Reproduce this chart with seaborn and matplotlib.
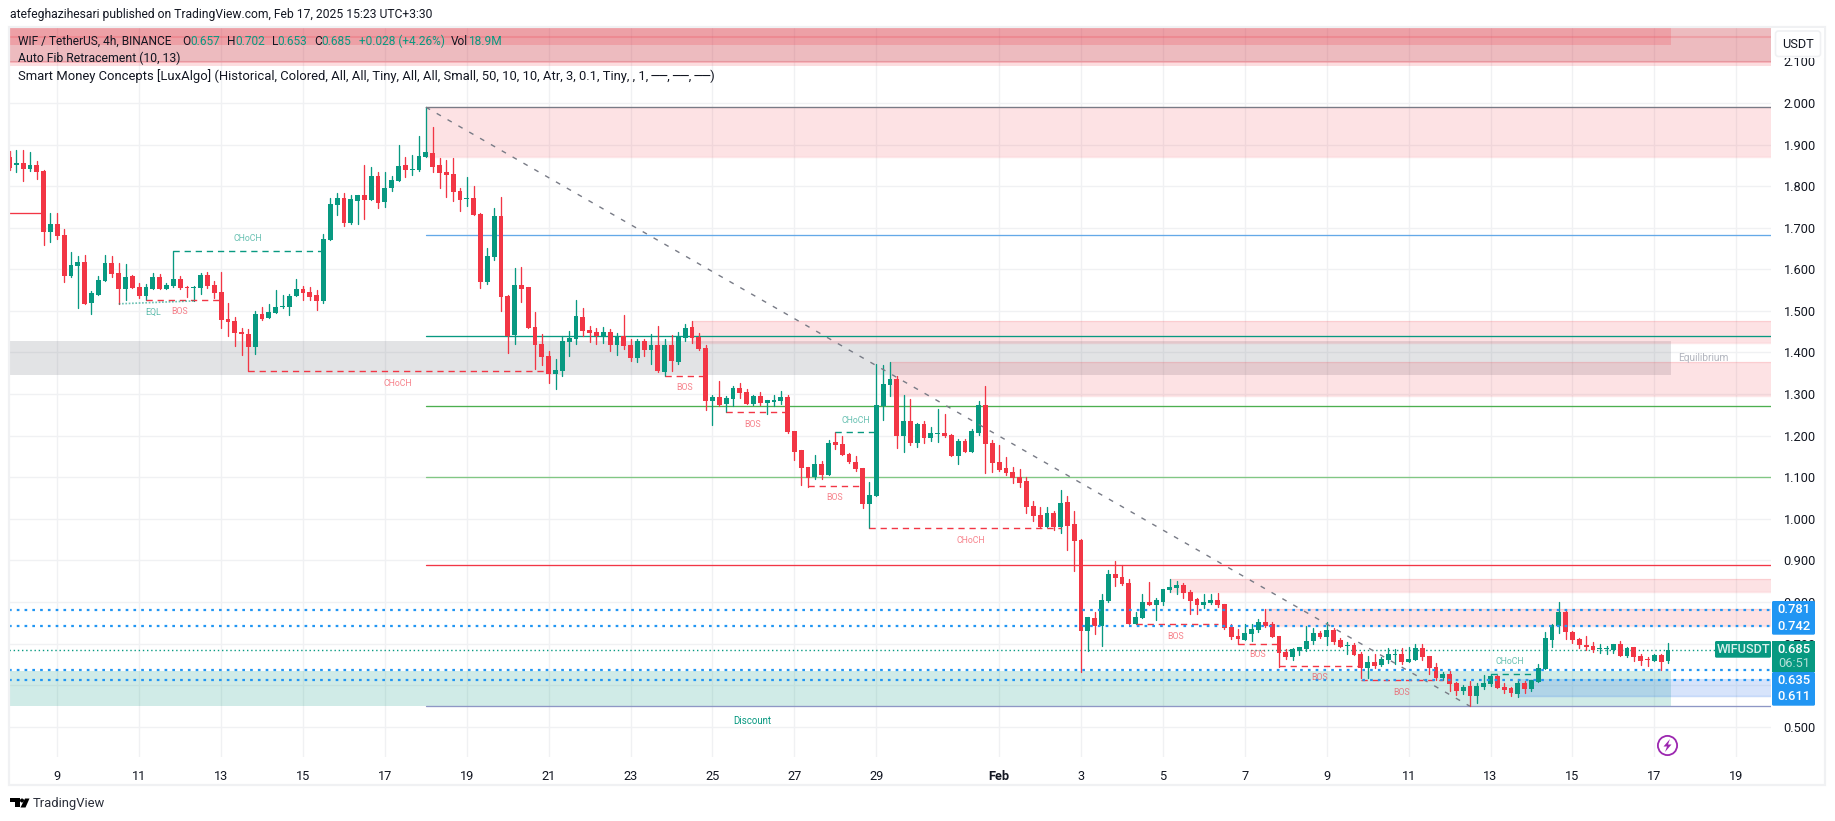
import matplotlib
matplotlib.use("Agg")
import matplotlib.pyplot as plt
from matplotlib.patches import Rectangle, Circle, FancyBboxPatch, Polygon
import numpy as np
import pandas as pd
import seaborn as sns

GREEN = "#089981"
RED = "#f23645"
BLUE = "#2196f3"
GRID = "#f0f1f3"
DARK = "#131722"

# 4h candles, first one is 7 bars before Jan 9
opens = [
    1.871, 1.852, 1.856, 1.841, 1.851, 1.837, 1.690, 1.709, 1.682, 1.584,
    1.608, 1.618, 1.520, 1.539, 1.572, 1.615, 1.591, 1.553, 1.584, 1.557,
    1.536, 1.553, 1.581, 1.553, 1.560, 1.577, 1.558, 1.556, 1.555, 1.586,
    1.562, 1.545, 1.480, 1.476, 1.449, 1.444, 1.413, 1.493, 1.483, 1.495,
    1.510, 1.509, 1.536, 1.553, 1.545, 1.538, 1.524, 1.670, 1.755, 1.771,
    1.711, 1.764, 1.779, 1.767, 1.824, 1.762, 1.796, 1.812, 1.851, 1.839,
    1.839, 1.870, 1.880, 1.851, 1.834, 1.829, 1.788, 1.769, 1.771, 1.733,
    1.569, 1.629, 1.728, 1.536, 1.442, 1.562, 1.557, 1.461, 1.420, 1.391,
    1.348, 1.355, 1.425, 1.432, 1.485, 1.454, 1.449, 1.438, 1.449, 1.418,
    1.440, 1.418, 1.387, 1.428, 1.406, 1.418, 1.353, 1.418, 1.377, 1.435,
    1.461, 1.437, 1.411, 1.283, 1.293, 1.276, 1.288, 1.315, 1.305, 1.276,
    1.295, 1.278, 1.281, 1.283, 1.293, 1.211, 1.165, 1.124, 1.100, 1.132,
    1.105, 1.185, 1.180, 1.156, 1.137, 1.122, 1.036, 1.055, 1.271, 1.321,
    1.336, 1.199, 1.235, 1.182, 1.228, 1.194, 1.204, 1.206, 1.201, 1.151,
    1.187, 1.161, 1.206, 1.274, 1.182, 1.137, 1.122, 1.112, 1.100, 1.091,
    1.031, 1.009, 0.980, 1.014, 0.980, 1.040, 0.987, 0.949, 0.730, 0.761,
    0.742, 0.802, 0.867, 0.860, 0.845, 0.747, 0.761, 0.800, 0.793, 0.800,
    0.829, 0.833, 0.841, 0.824, 0.807, 0.793, 0.797, 0.805, 0.795, 0.740,
    0.718, 0.708, 0.723, 0.733, 0.752, 0.747, 0.718, 0.680, 0.668, 0.682,
    0.687, 0.706, 0.725, 0.716, 0.733, 0.708, 0.695, 0.696, 0.675, 0.641,
    0.655, 0.648, 0.660, 0.673, 0.675, 0.655, 0.660, 0.689, 0.670, 0.644,
    0.617, 0.627, 0.605, 0.586, 0.598, 0.574, 0.595, 0.603, 0.622, 0.595,
    0.593, 0.578, 0.605, 0.590, 0.607, 0.639, 0.708, 0.742, 0.776, 0.728,
    0.711, 0.696, 0.694, 0.686, 0.686, 0.684, 0.699, 0.670, 0.692, 0.670,
    0.662, 0.658, 0.672, 0.657,
]
closes = [
    1.843, 1.856, 1.841, 1.851, 1.835, 1.690, 1.709, 1.680, 1.584, 1.610,
    1.618, 1.517, 1.542, 1.574, 1.615, 1.589, 1.553, 1.581, 1.555, 1.536,
    1.557, 1.581, 1.553, 1.562, 1.577, 1.555, 1.556, 1.558, 1.586, 1.561,
    1.543, 1.478, 1.473, 1.447, 1.444, 1.413, 1.493, 1.480, 1.497, 1.509,
    1.512, 1.536, 1.553, 1.543, 1.533, 1.524, 1.673, 1.757, 1.771, 1.711,
    1.769, 1.779, 1.767, 1.824, 1.759, 1.796, 1.815, 1.848, 1.839, 1.841,
    1.872, 1.882, 1.846, 1.832, 1.827, 1.786, 1.767, 1.771, 1.731, 1.569,
    1.632, 1.728, 1.533, 1.440, 1.562, 1.553, 1.459, 1.418, 1.389, 1.348,
    1.358, 1.428, 1.435, 1.488, 1.452, 1.447, 1.440, 1.449, 1.418, 1.439,
    1.416, 1.387, 1.428, 1.406, 1.418, 1.355, 1.418, 1.379, 1.440, 1.459,
    1.435, 1.408, 1.283, 1.293, 1.274, 1.290, 1.315, 1.303, 1.276, 1.295,
    1.278, 1.286, 1.286, 1.293, 1.209, 1.161, 1.122, 1.098, 1.132, 1.105,
    1.182, 1.177, 1.153, 1.137, 1.120, 1.036, 1.057, 1.274, 1.324, 1.336,
    1.199, 1.235, 1.182, 1.228, 1.194, 1.206, 1.206, 1.199, 1.151, 1.187,
    1.161, 1.211, 1.274, 1.180, 1.134, 1.117, 1.110, 1.098, 1.086, 1.028,
    1.007, 0.980, 1.014, 0.980, 1.038, 0.983, 0.946, 0.730, 0.764, 0.742,
    0.805, 0.867, 0.858, 0.843, 0.747, 0.764, 0.800, 0.793, 0.805, 0.831,
    0.836, 0.841, 0.821, 0.802, 0.793, 0.800, 0.805, 0.793, 0.737, 0.716,
    0.711, 0.725, 0.735, 0.752, 0.742, 0.716, 0.677, 0.668, 0.687, 0.692,
    0.706, 0.725, 0.716, 0.733, 0.704, 0.692, 0.696, 0.672, 0.641, 0.655,
    0.646, 0.663, 0.675, 0.675, 0.655, 0.663, 0.689, 0.668, 0.641, 0.617,
    0.627, 0.603, 0.586, 0.595, 0.574, 0.598, 0.605, 0.622, 0.593, 0.588,
    0.581, 0.605, 0.590, 0.612, 0.641, 0.713, 0.744, 0.776, 0.728, 0.708,
    0.696, 0.692, 0.684, 0.688, 0.688, 0.699, 0.670, 0.689, 0.668, 0.658,
    0.660, 0.672, 0.655, 0.685,
]
highs = [
    1.885, 1.887, 1.887, 1.882, 1.860, 1.839, 1.735, 1.735, 1.697, 1.642,
    1.632, 1.634, 1.548, 1.584, 1.634, 1.631, 1.614, 1.613, 1.586, 1.566,
    1.565, 1.591, 1.589, 1.566, 1.643, 1.584, 1.561, 1.560, 1.592, 1.594,
    1.572, 1.593, 1.520, 1.486, 1.460, 1.456, 1.500, 1.509, 1.517, 1.550,
    1.538, 1.541, 1.576, 1.560, 1.557, 1.550, 1.685, 1.771, 1.784, 1.784,
    1.779, 1.779, 1.851, 1.846, 1.834, 1.834, 1.824, 1.899, 1.871, 1.875,
    1.920, 1.990, 1.942, 1.868, 1.863, 1.868, 1.796, 1.822, 1.800, 1.735,
    1.651, 1.747, 1.774, 1.538, 1.603, 1.606, 1.557, 1.497, 1.444, 1.404,
    1.384, 1.440, 1.452, 1.526, 1.507, 1.464, 1.459, 1.461, 1.456, 1.447,
    1.490, 1.432, 1.432, 1.432, 1.444, 1.464, 1.432, 1.442, 1.449, 1.468,
    1.476, 1.447, 1.418, 1.298, 1.331, 1.295, 1.319, 1.327, 1.312, 1.298,
    1.305, 1.286, 1.298, 1.307, 1.298, 1.211, 1.165, 1.124, 1.153, 1.139,
    1.189, 1.209, 1.199, 1.158, 1.151, 1.122, 1.088, 1.372, 1.370, 1.377,
    1.343, 1.298, 1.288, 1.230, 1.235, 1.221, 1.264, 1.252, 1.204, 1.192,
    1.192, 1.216, 1.283, 1.319, 1.189, 1.177, 1.149, 1.124, 1.120, 1.100,
    1.043, 1.028, 1.028, 1.019, 1.069, 1.055, 1.019, 0.951, 0.764, 0.776,
    0.819, 0.877, 0.898, 0.890, 0.855, 0.776, 0.819, 0.848, 0.810, 0.831,
    0.855, 0.850, 0.845, 0.829, 0.810, 0.819, 0.819, 0.821, 0.795, 0.747,
    0.735, 0.747, 0.747, 0.759, 0.783, 0.752, 0.718, 0.687, 0.689, 0.692,
    0.742, 0.737, 0.730, 0.752, 0.737, 0.713, 0.704, 0.701, 0.680, 0.670,
    0.675, 0.668, 0.689, 0.687, 0.689, 0.692, 0.699, 0.699, 0.670, 0.653,
    0.631, 0.634, 0.607, 0.600, 0.610, 0.605, 0.624, 0.627, 0.624, 0.605,
    0.595, 0.615, 0.610, 0.612, 0.651, 0.728, 0.747, 0.800, 0.781, 0.730,
    0.713, 0.718, 0.704, 0.699, 0.694, 0.699, 0.706, 0.692, 0.692, 0.675,
    0.668, 0.675, 0.675, 0.702,
]
lows = [
    1.840, 1.835, 1.812, 1.837, 1.817, 1.658, 1.666, 1.673, 1.570, 1.581,
    1.508, 1.517, 1.493, 1.539, 1.572, 1.582, 1.517, 1.526, 1.554, 1.530,
    1.526, 1.552, 1.552, 1.552, 1.558, 1.552, 1.534, 1.524, 1.541, 1.556,
    1.530, 1.460, 1.440, 1.416, 1.394, 1.355, 1.396, 1.478, 1.483, 1.494,
    1.508, 1.490, 1.536, 1.526, 1.526, 1.502, 1.519, 1.670, 1.730, 1.704,
    1.709, 1.709, 1.721, 1.767, 1.747, 1.750, 1.788, 1.812, 1.822, 1.827,
    1.837, 1.870, 1.834, 1.796, 1.774, 1.764, 1.740, 1.752, 1.731, 1.555,
    1.565, 1.622, 1.500, 1.399, 1.420, 1.521, 1.459, 1.360, 1.370, 1.327,
    1.312, 1.343, 1.392, 1.420, 1.440, 1.426, 1.420, 1.423, 1.404, 1.394,
    1.408, 1.379, 1.377, 1.392, 1.372, 1.353, 1.343, 1.355, 1.372, 1.428,
    1.423, 1.406, 1.262, 1.226, 1.271, 1.256, 1.271, 1.290, 1.276, 1.274,
    1.274, 1.252, 1.271, 1.276, 1.206, 1.141, 1.081, 1.077, 1.096, 1.096,
    1.105, 1.168, 1.153, 1.134, 1.115, 1.026, 0.977, 1.055, 1.238, 1.295,
    1.170, 1.161, 1.177, 1.173, 1.182, 1.187, 1.185, 1.197, 1.151, 1.132,
    1.161, 1.161, 1.201, 1.110, 1.112, 1.115, 1.105, 1.086, 1.077, 1.014,
    0.995, 0.978, 0.980, 0.973, 0.966, 0.925, 0.874, 0.632, 0.682, 0.723,
    0.694, 0.800, 0.838, 0.841, 0.747, 0.747, 0.761, 0.793, 0.756, 0.793,
    0.824, 0.819, 0.810, 0.771, 0.771, 0.785, 0.795, 0.788, 0.735, 0.711,
    0.699, 0.708, 0.706, 0.728, 0.740, 0.716, 0.644, 0.663, 0.660, 0.672,
    0.682, 0.699, 0.713, 0.696, 0.699, 0.692, 0.675, 0.672, 0.617, 0.617,
    0.641, 0.646, 0.653, 0.651, 0.651, 0.655, 0.660, 0.660, 0.627, 0.612,
    0.612, 0.586, 0.576, 0.578, 0.550, 0.557, 0.590, 0.598, 0.593, 0.581,
    0.574, 0.571, 0.581, 0.586, 0.607, 0.639, 0.692, 0.725, 0.711, 0.701,
    0.689, 0.684, 0.680, 0.677, 0.675, 0.677, 0.670, 0.668, 0.658, 0.648,
    0.646, 0.658, 0.636, 0.653,
]

price_ticks = [0.5, 0.6, 0.7, 0.8, 0.9, 1.0, 1.1, 1.2, 1.3, 1.4, 1.5, 1.6, 1.7, 1.8, 1.9, 2.0, 2.1]
day_ticks = [0, 2, 4, 6, 8, 10, 12, 14, 16, 18, 20, 23, 25, 27, 29, 31, 33, 35, 37, 39, 41]
day_labels = ["9", "11", "13", "15", "17", "19", "21", "23", "25", "27", "29",
              "Feb", "3", "5", "7", "9", "11", "13", "15", "17", "19"]

# fib levels: price, colour
fib_prices = [1.990, 1.6825, 1.439, 1.271, 1.1005, 0.890, 0.549]
fib_colors = ["#787b86", "#64a9e8", GREEN, "#4caf50", "#81c784", RED, "#8e97c5"]

# supply zones: first bar, low, high
supply_start = [61, 100, 129, 170, 184]
supply_low = [1.871, 1.4236, 1.296, 0.825, 0.741]
supply_high = [1.990, 1.4757, 1.377, 0.855, 0.783]

# market structure breaks: first bar, last bar, price, label, label day, label price, colour
break_start = [24, 20, 35, 96, 105, 117, 121, 126, 165, 180, 186, 198, 217]
break_end = [46, 31, 79, 102, 114, 125, 127, 154, 177, 186, 198, 210, 224]
break_price = [1.643, 1.526, 1.355, 1.3427, 1.256, 1.078, 1.208, 0.977, 0.746, 0.700, 0.6452, 0.6116, 0.6258]
break_label = ["CHoCH", "BOS", "CHoCH", "BOS", "BOS", "BOS", "CHoCH", "CHoCH", "BOS", "BOS", "BOS", "BOS", "CHoCH"]
break_label_day = [4.66, 2.98, 8.32, 15.32, 16.98, 18.98, 19.49, 22.32, 27.31, 29.31, 30.83, 32.83, 35.48]
break_label_price = [1.673, 1.4997, 1.326, 1.316, 1.227, 1.052, 1.237, 0.948, 0.7165, 0.6742, 0.619, 0.5827, 0.6573]
break_color = [GREEN, RED, RED, RED, RED, RED, GREEN, RED, RED, RED, RED, RED, GREEN]

alert_levels = [0.7815, 0.742, 0.637, 0.6125]
last_price = 0.685


def bar_day(i):
    return (i - 7) / 6


W, H = 1835, 821
sns.set_theme(style="white")
plt.rcParams["font.family"] = ["Roboto", "DejaVu Sans"]

df = pd.DataFrame({"open": opens, "high": highs, "low": lows, "close": closes})
df["bar"] = df.index
df["day"] = bar_day(df["bar"])
df["up"] = df["close"] >= df["open"]

wicks = df.melt(id_vars=["bar", "day", "up"], value_vars=["high", "low"], value_name="price")

fig = plt.figure(figsize=(W / 100, H / 100), dpi=100, facecolor="white")
ax = fig.add_axes([9 / W, 1 - 757 / H, (1771 - 9) / W, (757 - 28) / H])
ax.set_xlim((9 - 57.3) / 40.95, (1771 - 57.3) / 40.95)
ax.set_ylim(2 - (757 - 103) / 415.8, 2 + (103 - 28) / 415.8)

ax.set_xticks(day_ticks, day_labels)
ax.yaxis.tick_right()
ax.set_yticks(price_ticks, [f"{p:.3f}" for p in price_ticks])
ax.grid(True, color=GRID, linewidth=1, zorder=0)
ax.set_axisbelow(True)
ax.tick_params(length=0, labelsize=9.2, labelcolor=DARK)
ax.tick_params(axis="x", pad=9)
ax.tick_params(axis="y", pad=9)
for lab in ax.get_xticklabels():
    if lab.get_text() == "Feb":
        lab.set_fontweight("bold")
sns.despine(ax=ax, left=True, bottom=True, right=True, top=True)

xmin, xmax = ax.get_xlim()
ymin, ymax = ax.get_ylim()
zone_end = bar_day(243) + 0.07

# top premium bands
ax.axhspan(2.0986, ymax + 1, color="#c6202d", alpha=0.3, lw=0, zorder=1)
ax.axhspan(2.089, 2.0986, color=RED, alpha=0.17, lw=0, zorder=1)
ax.fill_between([xmin, zone_end], 2.1395, ymax + 1, color=RED, alpha=0.2, lw=0, zorder=1.1)
ax.axhline(2.1595, color=RED, alpha=0.2, lw=1.5, zorder=1.2)
ax.axhline(2.0986, color=RED, alpha=0.25, lw=1.2, zorder=1.2)

# equilibrium and discount
ax.fill_between([xmin, zone_end], 1.346, 1.428, color="#787b86", alpha=0.21, lw=0, zorder=1)
ax.fill_between([xmin, zone_end], 0.549, 0.6347, color=GREEN, alpha=0.19, lw=0, zorder=1)
ax.fill_between([bar_day(221), xmax], 0.573, 0.614, color="#226eeb", alpha=0.18, lw=0, zorder=1.1)
ax.plot([bar_day(221), xmax], [0.573, 0.573], color="#226eeb", alpha=0.25, lw=1, zorder=1.1)
ax.text(40.2, 1.387, "Equilibrium", color="#b2b5be", fontsize=7.3, ha="center", va="center", zorder=2)
ax.text(16.98, 0.514, "Discount", color=GREEN, fontsize=7, ha="center", va="center", zorder=2)

for start, low, high in zip(supply_start, supply_low, supply_high):
    ax.fill_between([bar_day(start), xmax], low, high, color=RED, alpha=0.14, lw=0, zorder=1)
    ax.plot([bar_day(start), xmax], [low, low], color=RED, alpha=0.12, lw=1, zorder=1)
    ax.plot([bar_day(start), xmax], [high, high], color=RED, alpha=0.12, lw=1, zorder=1)

for price, color in zip(fib_prices, fib_colors):
    ax.plot([bar_day(61), xmax], [price, price], color=color, lw=0.95, zorder=1.5)
ax.plot([xmin, bar_day(5)], [1.735, 1.735], color=RED, lw=0.95, zorder=1.5)

# candles
sns.lineplot(data=wicks, x="day", y="price", units="bar", estimator=None, hue="up",
             palette={True: GREEN, False: RED}, legend=False, linewidth=0.95,
             ax=ax, zorder=3)
body_low = df[["open", "close"]].min(axis=1)
body_height = (df["close"] - df["open"]).abs().clip(lower=0.0022)
ax.bar(df["day"], body_height, bottom=body_low, width=0.118,
       color=np.where(df["up"], GREEN, RED), linewidth=0, zorder=3.2)
ax.set_xlabel("")
ax.set_ylabel("")

# swing diagonal
ax.plot([bar_day(61), bar_day(214)], [1.990, 0.549], color="#787b86", lw=1,
        dashes=(3.5, 5.5), zorder=3.5)

for start, end, price, label, lday, lprice, color in zip(break_start, break_end, break_price, break_label,
                                                         break_label_day, break_label_price, break_color):
    ax.plot([bar_day(start), bar_day(end)], [price, price], color=color, lw=1,
            dashes=(4.5, 3.5), zorder=4)
    ax.text(lday, lprice, label, color=color, alpha=0.62, fontsize=6.3, ha="center", va="center", zorder=4)

# equal lows
ax.plot([bar_day(16), bar_day(27)], [1.517, 1.524], color=GREEN, alpha=0.6, lw=1.2, dashes=(1, 1), zorder=4)
ax.text(2.33, 1.4957, "EQL", color=GREEN, alpha=0.65, fontsize=6.3, ha="center", va="center", zorder=4)

for level in alert_levels:
    ax.axhline(level, color=BLUE, lw=1.6, dashes=(1.2, 2.3), zorder=5)
ax.axhline(last_price, color=GREEN, lw=1, dashes=(1, 2), zorder=2.5)

# chrome drawn on top in pixel coordinates
ov = fig.add_axes([0, 0, 1, 1], zorder=5)
ov.set_xlim(0, W)
ov.set_ylim(H, 0)
ov.axis("off")
ov.patch.set_alpha(0)

ov.add_patch(Rectangle((8.5, 27), 1816.5, 758.5, fill=False, edgecolor=GRID, lw=1.6))
ov.text(10, 14.5, "atefeghazihesari published on TradingView.com, Feb 17, 2025 15:23 UTC+3:30",
        fontsize=8.7, color=DARK, va="center")

legend_y = 41.5
legend_parts = [(18, "WIF / TetherUS, 4h, BINANCE", DARK), (182, "O", DARK), (190, "0.657", GREEN),
                (227, "H", DARK), (235, "0.702", GREEN), (271.5, "L", DARK), (277.5, "0.653", GREEN),
                (314.6, "C", DARK), (321, "0.685", GREEN), (358.5, "+0.028 (+4.26%)", GREEN),
                (450.6, "Vol", DARK), (467.6, "18.9M", GREEN)]
for x, txt, color in legend_parts:
    ov.text(x, legend_y, txt, fontsize=8.6, color=color, va="center")
ov.text(18, 58.7, "Auto Fib Retracement (10, 13)", fontsize=8.8, color=DARK, va="center")
ov.text(18, 76, "Smart Money Concepts [LuxAlgo] (Historical, Colored, All, All, Tiny, All, All, Small, "
        "50, 10, 10, Atr, 3, 0.1, Tiny, , 1, ──, ──, ──)", fontsize=9.38, color=DARK, va="center")

# white strip hides the top of the 2.100 label behind the currency button
ov.add_patch(Rectangle((1772, 28), 52, 30.5, facecolor="white", edgecolor="none"))
ov.add_patch(FancyBboxPatch((1775.5, 31), 45, 25.5, boxstyle="round,pad=0,rounding_size=3",
                            facecolor="white", edgecolor=GRID, lw=1.2))
ov.text(1798, 44, "USDT", fontsize=9.2, color=DARK, ha="center", va="center")

# price tags
ov.add_patch(FancyBboxPatch((1772, 601), 43, 33.7, boxstyle="round,pad=0,rounding_size=1.5",
                            facecolor=BLUE, edgecolor="none"))
ov.add_patch(FancyBboxPatch((1772, 672), 43, 33.7, boxstyle="round,pad=0,rounding_size=1.5",
                            facecolor=BLUE, edgecolor="none"))
ov.add_patch(Rectangle((1772, 641), 43, 31, facecolor=GREEN, edgecolor="none"))
ov.add_patch(FancyBboxPatch((1715, 641), 56, 16.7, boxstyle="round,pad=0,rounding_size=1.5",
                            facecolor=GREEN, edgecolor="none"))
for y, txt in zip([609.7, 626.5, 680.5, 697], ["0.781", "0.742", "0.635", "0.611"]):
    ov.text(1794, y, txt, fontsize=9.4, color="white", ha="center", va="center", fontweight="medium")
ov.text(1794, 649.5, "0.685", fontsize=9.4, color="white", ha="center", va="center", fontweight="medium")
ov.text(1794, 663.5, "06:51", fontsize=9.2, color="#b5e0d8", ha="center", va="center")
ov.text(1743, 649.5, "WIFUSDT", fontsize=9.2, color="#d8f0ec", ha="center", va="center", fontweight="medium")

# lightning badge
ov.add_patch(Circle((1667.5, 745.5), 9.6, facecolor="white", edgecolor="#9c27b0", lw=1.3))
ov.add_patch(Polygon([(1670, 739), (1663.5, 746.5), (1667, 746.5), (1665, 752), (1671.5, 744.5),
                      (1668, 744.5)], closed=True, facecolor="#9c27b0", edgecolor="none"))

# TradingView mark
ov.add_patch(Polygon([(10, 798.5), (19.5, 798.5), (19.5, 807.5), (15, 807.5), (15, 802.5), (10, 802.5)],
                     closed=True, facecolor="black", edgecolor="none"))
ov.add_patch(Circle((22, 800.5), 2, facecolor="black", edgecolor="none"))
ov.add_patch(Polygon([(25, 798.5), (29.5, 798.5), (25.5, 807.5), (20.5, 807.5)], closed=True,
                     facecolor="black", edgecolor="none"))
ov.text(33, 803.5, "TradingView", fontsize=9.4, color="#2a2e39", va="center")

fig.savefig("out.png", dpi=100)
